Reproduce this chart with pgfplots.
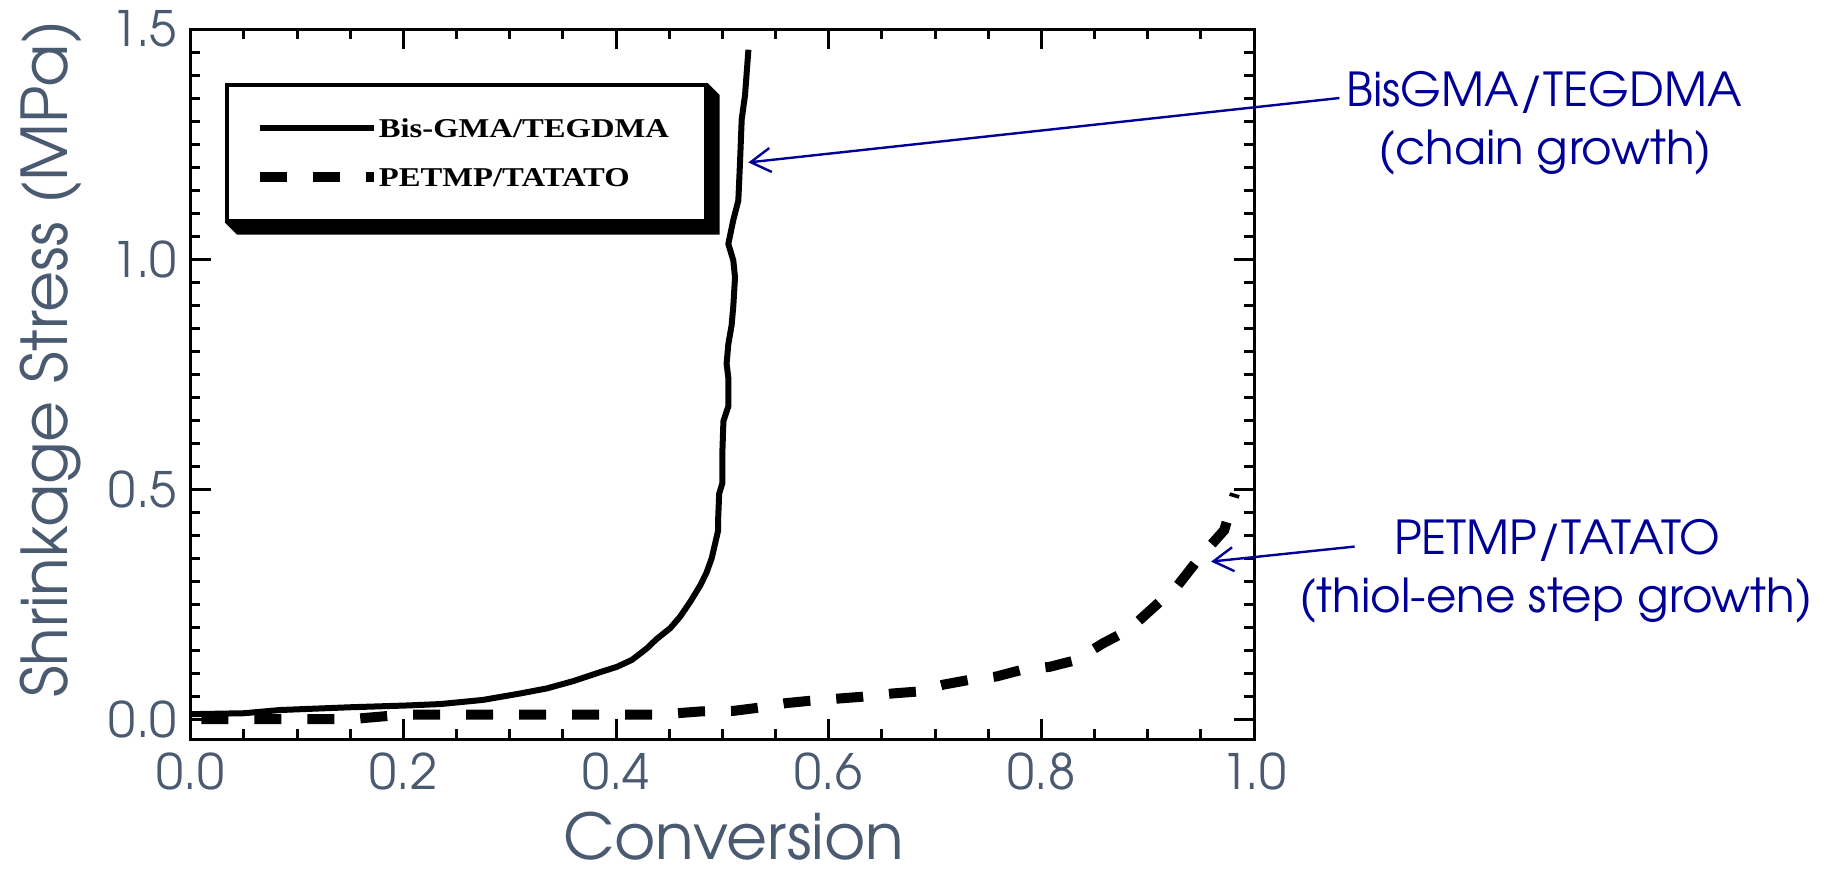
\documentclass[border=0pt]{standalone}
\usepackage{fontspec}
\usepackage{pgfplots}
\pgfplotsset{compat=1.18}
\usetikzlibrary{arrows.meta}
\newfontfamily\gothic{texgyreadventor-regular.otf}
\newfontfamily\legfont[FakeStretch=1.2]{Liberation Serif}
\definecolor{ticklab}{RGB}{74,90,112}
\definecolor{annblue}{RGB}{0,0,150}
\begin{document}
\begin{tikzpicture}
\begin{axis}[
  name=ax,
  scale only axis, width=265.83pt, height=177.5pt,
  xmin=0, xmax=1, ymin=-0.043, ymax=1.5,
  xtick={0,0.2,0.4,0.6,0.8,1}, ytick={0,0.5,1,1.5},
  minor x tick num=3, minor y tick num=9,
  tick align=inside, major tick length=5pt, minor tick length=2.4pt,
  tick style={black, line width=0.75pt},
  axis line style={line width=0.75pt},
  tick label style={font=\fontsize{12.2}{14}\gothic, text=ticklab},
  /pgf/number format/assume math mode=true,
  xticklabel style={/pgf/number format/.cd, fixed, fixed zerofill, precision=1},
  yticklabel style={/pgf/number format/.cd, fixed, fixed zerofill, precision=1},
  clip=false,
  legend style={name=leg, at={(axis cs:0.0323,1.3826)}, anchor=north west, draw=black, line width=0.9pt, fill=white,
    inner xsep=7pt, inner ysep=7.6pt, row sep=5.6pt,
    font=\legfont\bfseries\fontsize{6.8}{8}\selectfont,
    nodes={inner sep=0pt, text height=5.6pt, text depth=1pt},
    /tikz/every even column/.append style={column sep=1.5pt},
    cells={anchor=west}},
  legend image code/.code={\draw[#1] (0pt,0pt) -- (28.5pt,0pt);},
]
\addplot[black, line width=1.5pt, line join=round] table {
x y
0.000 0.011
0.050 0.013
0.084 0.020
0.150 0.026
0.205 0.030
0.235 0.033
0.275 0.042
0.310 0.056
0.335 0.067
0.360 0.083
0.382 0.100
0.401 0.114
0.415 0.129
0.429 0.154
0.438 0.174
0.451 0.198
0.460 0.222
0.470 0.256
0.479 0.290
0.485 0.318
0.490 0.350
0.493 0.380
0.496 0.410
0.496 0.433
0.497 0.490
0.500 0.513
0.500 0.580
0.501 0.648
0.5056 0.680
0.5056 0.742
0.504 0.773
0.5056 0.815
0.5087 0.856
0.5103 0.898
0.5119 0.960
0.5103 0.997
0.5056 1.033
0.5103 1.085
0.515 1.127
0.5166 1.210
0.5182 1.304
0.5213 1.356
0.5245 1.455
};
\addplot[black, line width=2.5pt, dash pattern=on 6.75pt off 6.5pt] table {
x y
0.010 0.000
0.150 0.000
0.200 0.010
0.440 0.010
0.480 0.017
0.510 0.018
0.534 0.025
0.560 0.035
0.582 0.040
0.632 0.049
0.660 0.056
0.683 0.060
0.7075 0.075
0.731 0.085
0.758 0.093
0.781 0.107
0.808 0.114
0.832 0.128
0.858 0.165
0.882 0.194
0.905 0.242
0.928 0.290
0.947 0.346
0.972 0.411
0.982 0.490
};
\legend{\makebox[74.75pt][l]{Bis-GMA/TEGDMA},\makebox[74.75pt][l]{PETMP/TATATO}}
\node[font=\fontsize{15.8}{18}\gothic, text=ticklab, anchor=base] at (axis cs:0.5107,-0.3045) {Conversion};
\node[font=\fontsize{15.8}{18}\gothic, text=ticklab, anchor=base, rotate=90] at (axis cs:-0.1154,0.7822) {Shrinkage Stress (MPa)};
\node[font=\fontsize{11.7}{13}\gothic, text=annblue, anchor=base] at (axis cs:1.2728,1.3311) {BisGMA/TEGDMA};
\node[font=\fontsize{11.7}{13}\gothic, text=annblue, anchor=base] at (axis cs:1.2737,1.2050) {(chain growth)};
\draw[annblue, line width=0.6pt, -{Straight Barb[length=5pt,width=6pt]}] (axis cs:1.0803,1.35) -- (axis cs:0.5244,1.21);
\node[font=\fontsize{11.7}{13}\gothic, text=annblue, anchor=base] at (axis cs:1.285,0.3572) {PETMP/TATATO};
\node[font=\fontsize{11.7}{13}\gothic, text=annblue, anchor=base] at (axis cs:1.284,0.2311) {(thiol-ene step growth)};
\draw[annblue, line width=0.6pt, -{Straight Barb[length=5pt,width=6pt]}] (axis cs:1.0946,0.3752) -- (axis cs:0.9596,0.3426);
\end{axis}
\fill[black] (leg.north east) -- ([shift={(3pt,-3pt)}]leg.north east) -- ([shift={(3pt,-3pt)}]leg.south east) -- ([shift={(3pt,-3pt)}]leg.south west) -- (leg.south west) -- (leg.south east) -- cycle;
\pgfresetboundingbox
\path[use as bounding box] ([shift={(-47.675pt,-32.25pt)}]ax.south west) rectangle ([shift={(409.575pt,184.75pt)}]ax.south west);
\end{tikzpicture}
\end{document}
